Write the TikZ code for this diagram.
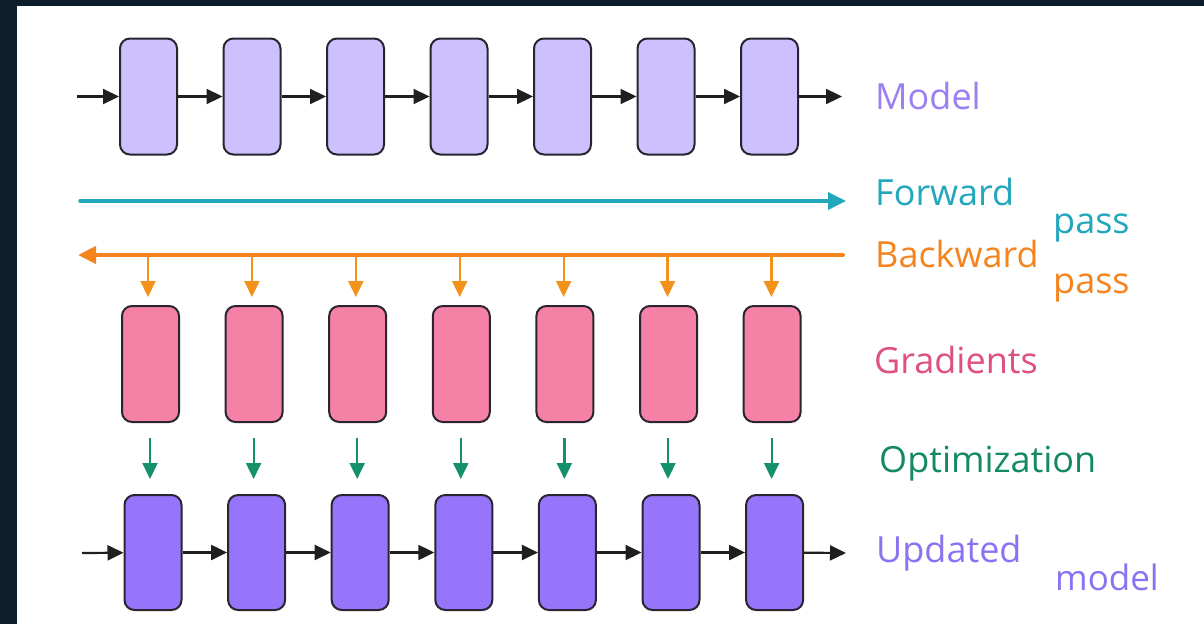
\documentclass[tikz,border=0pt]{standalone}
\usepackage{fontspec}
\setmainfont{Open Sans}
\usetikzlibrary{arrows.meta}

\definecolor{frame}{HTML}{0E1D2C}
\definecolor{edge}{HTML}{2A2430}
\definecolor{modelfill}{HTML}{CCC0FE}
\definecolor{gradfill}{HTML}{F581A7}
\definecolor{updfill}{HTML}{9775FA}
\definecolor{modeltxt}{HTML}{9A80F2}
\definecolor{updtxt}{HTML}{8B72F2}
\definecolor{fwd}{HTML}{22A7BD}
\definecolor{bwd}{HTML}{F5841F}
\definecolor{bwdtick}{HTML}{F2921A}
\definecolor{gradtxt}{HTML}{E0507F}
\definecolor{opt}{HTML}{14906A}
\definecolor{opttxt}{HTML}{138A62}

\tikzset{
  block/.style={draw=edge, line width=2pt, rounded corners=10pt,
    minimum width=57pt, minimum height=116pt, inner sep=0pt},
  link/.style={-{Triangle[length=16pt,width=15pt]}, line width=2.2pt, draw=black!88},
  tick/.style={-{Triangle[length=16pt,width=15pt]}, line width=2.2pt},
  pass/.style={-{Triangle[length=18pt,width=17pt]}, line width=3.5pt},
  lbl/.style={anchor=base west, inner sep=0pt, font=\fontsize{36}{40}\selectfont}
}

\begin{document}
\begin{tikzpicture}[x=1pt,y=-1pt]
  % page frame
  \fill[frame] (0,0) rectangle (1204,624);
  \fill[white] (17,6) rectangle (1204,624);
  \useasboundingbox (0,0) rectangle (1204,624);

  % model layers
  \foreach \i in {0,...,6}
    \node[block, fill=modelfill] (m\i) at ({148.5+103.5*\i},96.5) {};
  \coordinate (min) at (77,96.5);
  \coordinate (mout) at (842,96.5);
  \draw[link] (min) -- (m0);
  \foreach \i [count=\j from 1] in {0,...,5}
    \draw[link] (m\i) -- (m\j);
  \draw[link] (m6) -- (mout);

  % forward pass
  \coordinate (fa) at (80,201);
  \coordinate (fb) at (846,201);
  \draw[pass, draw=fwd, fill=fwd, line cap=round] (fa) -- (fb);

  % backward pass
  \coordinate (ba) at (843,255);
  \coordinate (bb) at (78,255);
  \draw[pass, line width=4pt, draw=bwd, fill=bwd, line cap=round] (ba) -- (bb);

  % gradients
  \foreach \i in {0,...,6}
    \node[block, fill=gradfill] (g\i) at ({150.5+103.6*\i},364) {};
  \foreach \i in {0,...,6} {
    \coordinate (t\i) at ({148+103.9*\i},255);
    \draw[tick, draw=bwdtick, fill=bwdtick, shorten >=8pt] (t\i) -- (t\i |- g\i.north);
  }

  % updated model layers
  \foreach \i in {0,...,6}
    \node[block, fill=updfill, minimum height=115pt] (u\i) at ({153+103.6*\i},552.5) {};
  \foreach \i in {0,...,6}
    \draw[tick, draw=opt, fill=opt, shorten <=15pt, shorten >=15pt]
      (g\i.south -| u\i.north) ++(-3,0) coordinate (o\i) (o\i) -- (o\i |- u\i.north);
  \coordinate (uin) at (82,553);
  \coordinate (uout) at (846,553);
  \draw[link] (uin) -- (u0);
  \foreach \i [count=\j from 1] in {0,...,5}
    \draw[link] (u\i) -- (u\j);
  \draw[link] (u6) -- (uout);

  % labels
  \node[lbl, text=modeltxt] (lmodel) at (875,109) {Model};
  \node[lbl, text=fwd] (lfwd) at (875,205) {Forward};
  \node[lbl, text=fwd] (lfwdp) at (1053,233) {pass};
  \node[lbl, text=bwd] (lbwd) at (875,267) {Backward};
  \node[lbl, text=bwd] (lbwdp) at (1053,293) {pass};
  \node[lbl, text=gradtxt] (lgrad) at (874,373) {Gradients};
  \node[lbl, text=opttxt] (lopt) at (879,472) {Optimization};
  \node[lbl, text=updtxt] (lupd) at (876,562) {Updated};
  \begin{scope}
    \clip (1000,560) rectangle (1155,610);
    \node[lbl, text=updtxt, font=\fontsize{35}{40}\selectfont] (lupdm) at (1055,590) {model};
  \end{scope}
\end{tikzpicture}
\end{document}
